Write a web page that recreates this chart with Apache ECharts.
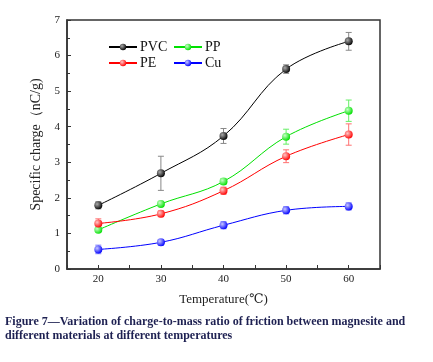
<!DOCTYPE html>
<html>
<head>
<meta charset="utf-8">
<script src="https://cdn.jsdelivr.net/npm/echarts@6/dist/echarts.min.js"></script>
<style>
  html, body { margin: 0; padding: 0; background: #fff; }
  #chart { width: 433px; height: 362px; }
</style>
</head>
<body>
<div id="chart"></div>
<script>
const temps = [20, 30, 40, 50, 60];
const pvc = [1.79, 2.69, 3.74, 5.62, 6.4];
const pvcErr = [0.1, 0.48, 0.21, 0.12, 0.25];
const pp = [1.1, 1.83, 2.46, 3.72, 4.45];
const ppErr = [0.05, 0.07, 0.08, 0.21, 0.3];
const pe = [1.28, 1.55, 2.2, 3.17, 3.78];
const peErr = [0.13, 0.08, 0.1, 0.18, 0.3];
const cu = [0.55, 0.75, 1.23, 1.65, 1.76];
const cuErr = [0.12, 0.08, 0.1, 0.1, 0.1];

const serif = "'Liberation Serif', 'DejaVu Serif', serif";

const chart = echarts.init(document.getElementById("chart"));

function sphere(light, dark) {
  return new echarts.graphic.RadialGradient(0.35, 0.35, 0.7, [
    { offset: 0, color: light },
    { offset: 1, color: dark },
  ]);
}

function lineSeries(name, values, color, light) {
  return {
    name: name,
    type: "line",
    smooth: 0.4,
    symbol: "circle",
    symbolSize: 8,
    z: 3,
    lineStyle: { color: color, width: 1 },
    itemStyle: { color: sphere(light, color), borderWidth: 0 },
    data: temps.map((t, i) => [t, values[i]]),
  };
}

// error bars with small caps
function errSeries(values, errs, color) {
  return {
    type: "custom",
    z: 2,
    silent: true,
    renderItem: function (params, api) {
      const x = api.value(0);
      const lo = api.coord([x, api.value(1) - api.value(2)]);
      const hi = api.coord([x, api.value(1) + api.value(2)]);
      const w = 3;
      const style = { stroke: color, lineWidth: 1 };
      return {
        type: "group",
        children: [
          { type: "line", shape: { x1: lo[0], y1: lo[1], x2: hi[0], y2: hi[1] }, style: style },
          { type: "line", shape: { x1: lo[0] - w, y1: lo[1], x2: lo[0] + w, y2: lo[1] }, style: style },
          { type: "line", shape: { x1: hi[0] - w, y1: hi[1], x2: hi[0] + w, y2: hi[1] }, style: style },
        ],
      };
    },
    data: temps.map((t, i) => [t, values[i], errs[i]]),
  };
}

const legendBase = {
  orient: "vertical",
  top: 40,
  padding: 0,
  itemWidth: 28,
  itemHeight: 8,
  itemGap: 2,
  textStyle: { fontFamily: serif, fontSize: 14, color: "#111", padding: [0, 0, 0, -2] },
};

const option = {
  animation: false,
  backgroundColor: "#fff",
  grid: {
    left: 67,
    right: 53,
    top: 20,
    bottom: 93,
    show: true,
    borderColor: "#333",
    borderWidth: 1.5,
  },
  legend: [
    Object.assign({ data: ["PVC", "PE"], left: 108 }, legendBase),
    Object.assign({ data: ["PP", "Cu"], left: 173 }, legendBase),
  ],
  xAxis: {
    type: "value",
    min: 15,
    max: 65,
    interval: 5,
    name: "Temperature(℃)",
    nameLocation: "middle",
    nameGap: 24,
    nameTextStyle: { fontFamily: serif, fontSize: 13, color: "#222" },
    axisLine: { lineStyle: { color: "#333", width: 1.5 } },
    axisTick: { inside: true, length: 4, lineStyle: { color: "#333" } },
    axisLabel: {
      fontFamily: serif,
      fontSize: 11,
      color: "#222",
      margin: 5,
      formatter: (v) => (v % 10 === 0 ? String(v) : ""),
    },
    splitLine: { show: false },
  },
  yAxis: {
    type: "value",
    min: 0,
    max: 7,
    interval: 1,
    name: "Specific charge（nC/g)",
    nameLocation: "middle",
    nameGap: 14,
    nameTextStyle: { fontFamily: serif, fontSize: 14, color: "#222" },
    axisLine: { lineStyle: { color: "#333", width: 1.5 } },
    axisTick: { inside: true, length: 4, lineStyle: { color: "#333" } },
    minorTick: { show: true, splitNumber: 2, length: 3, lineStyle: { color: "#333" } },
    axisLabel: { fontFamily: serif, fontSize: 11, color: "#222", margin: 7 },
    splitLine: { show: false },
  },
  graphic: [
    {
      type: "text",
      left: 5,
      top: 315,
      style: {
        text: "Figure 7—Variation of charge-to-mass ratio of friction between magnesite and\ndifferent materials at different temperatures",
        font: "bold 12px " + serif,
        fill: "#1e2152",
        lineHeight: 14,
      },
    },
  ],
  series: [
    errSeries(pvc, pvcErr, "#888"),
    errSeries(pp, ppErr, "#66ee66"),
    errSeries(pe, peErr, "#ff7070"),
    errSeries(cu, cuErr, "#7a7aff"),
    lineSeries("PVC", pvc, "#000000", "#aaaaaa"),
    lineSeries("PP", pp, "#00e000", "#c8ffc8"),
    lineSeries("PE", pe, "#ff0000", "#ffc8c8"),
    lineSeries("Cu", cu, "#0000ff", "#c8c8ff"),
  ],
};

chart.setOption(option);
</script>
</body>
</html>
